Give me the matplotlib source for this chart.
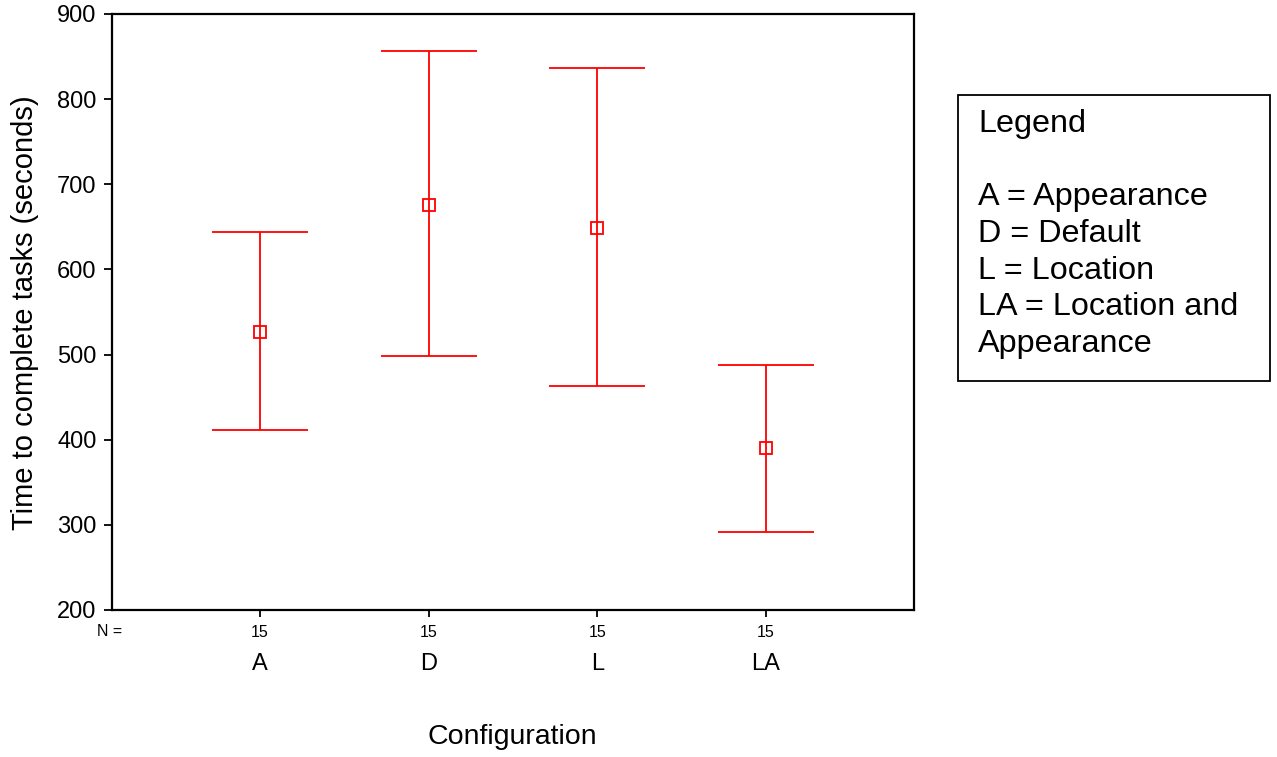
import matplotlib.pyplot as plt
from matplotlib.patches import Rectangle
from matplotlib.transforms import blended_transform_factory

plt.rcParams['font.family'] = ['Liberation Sans', 'DejaVu Sans']

# data
categories = ['A', 'D', 'L', 'LA']
n_counts = ['15', '15', '15', '15']
means = [526, 676, 649, 390]
lower = [411, 498, 463, 292]
upper = [644, 857, 837, 488]

legend_lines = ['Legend', '', 'A = Appearance', 'D = Default', 'L = Location',
                'LA = Location and', 'Appearance']

fig = plt.figure(figsize=(12.77, 7.57), dpi=100)
ax = fig.add_axes([112 / 1277, 1 - 610 / 757, (914 - 112) / 1277, (610 - 14) / 757])

x = list(range(1, len(categories) + 1))
red = '#ff0000'

# error bars with caps
for xi, m, lo, hi in zip(x, means, lower, upper):
    ax.vlines(xi, lo, hi, color=red, lw=1.3)
    ax.hlines([lo, hi], xi - 0.285, xi + 0.285, color=red, lw=1.3)
ax.plot(x, means, linestyle='none', marker='s', markersize=9,
        markerfacecolor='none', markeredgecolor=red, markeredgewidth=1.3)

ax.set_xlim(0.123, 4.877)
ax.set_ylim(200, 900)
ax.set_yticks(range(200, 901, 100))
ax.tick_params(axis='y', labelsize=17, length=6, width=1.3, pad=5)
ax.set_xticks(x, labels=n_counts)
ax.tick_params(axis='x', labelsize=11.5, length=5, width=1.3, pad=6)
for s in ax.spines.values():
    s.set_linewidth(1.6)

trans = blended_transform_factory(ax.transData, fig.transFigure)
for xi, c in zip(x, categories):
    ax.text(xi, 1 - 664 / 757, c, transform=trans, ha='center', va='center', fontsize=17)
fig.text(110 / 1277, 1 - 631 / 757, 'N =', ha='center', va='center', fontsize=11.5)

fig.text(25 / 1277, 1 - 313 / 757, 'Time to complete tasks (seconds)', rotation=90,
         ha='center', va='center', fontsize=21)
fig.text(512 / 1277, 1 - 737 / 757, 'Configuration', ha='center', va='center', fontsize=20.5)

# legend box drawn as text
fig.patches.append(Rectangle((958 / 1277, 1 - 381 / 757), (1270 - 958) / 1277, (381 - 95) / 757,
                             transform=fig.transFigure, fill=False, edgecolor='black', lw=1.3))
y0 = 124
for i, line in enumerate(legend_lines):
    yy = y0 if i == 0 else 197 + (i - 2) * 36.8
    fig.text(978 / 1277, 1 - yy / 757, line, ha='left', va='center', fontsize=23.3)

fig.savefig('out.png', dpi=100)
